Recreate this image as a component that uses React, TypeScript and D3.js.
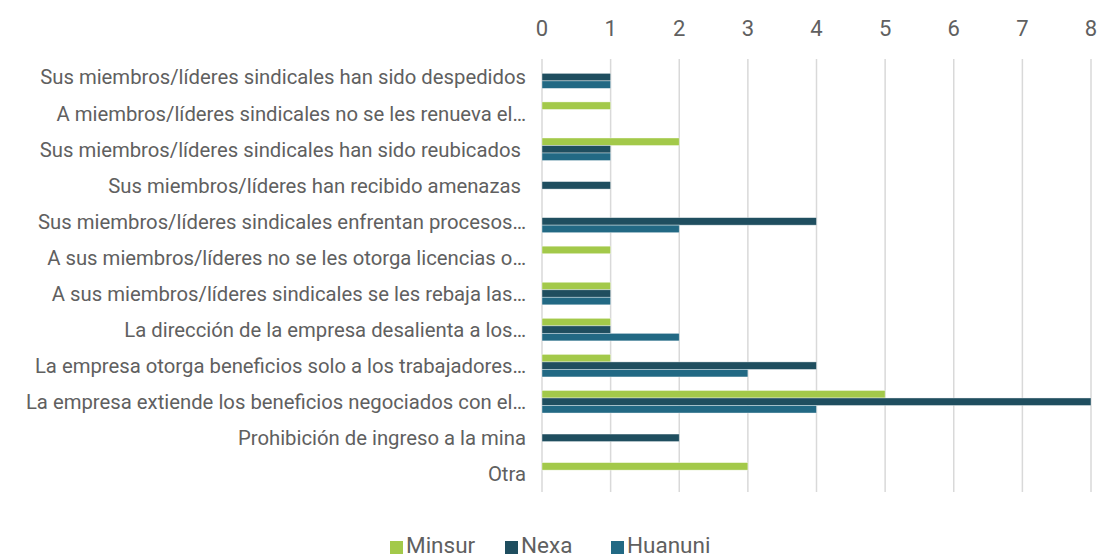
import React from "react";
import * as d3 from "d3";

const categories = [
  "Sus miembros/líderes sindicales han sido despedidos",
  "A miembros/líderes sindicales no se les renueva el…",
  "Sus miembros/líderes sindicales han sido reubicados ",
  "Sus miembros/líderes han recibido amenazas ",
  "Sus miembros/líderes sindicales enfrentan procesos…",
  "A sus miembros/líderes no se les otorga licencias o…",
  "A sus miembros/líderes sindicales se les rebaja las…",
  "La dirección de la empresa desalienta a los…",
  "La empresa otorga beneficios solo a los trabajadores…",
  "La empresa extiende los beneficios negociados con el…",
  "Prohibición de ingreso a la mina",
  "Otra",
];
const seriesNames = ["Minsur", "Nexa", "Huanuni"];
const minsur = [0, 1, 2, 0, 0, 1, 1, 1, 1, 5, 0, 3];
const nexa = [1, 0, 1, 1, 4, 0, 1, 1, 4, 8, 2, 0];
const huanuni = [1, 0, 1, 0, 2, 0, 1, 2, 3, 4, 0, 0];
const seriesValues = [minsur, nexa, huanuni];
const colors = ["#A3C94A", "#1F4E5F", "#226984"];
const ticks = [0, 1, 2, 3, 4, 5, 6, 7, 8];

export default function App() {
  const W = 1100, H = 559;
  const left = 542, right = 1091, top = 59, bottom = 492;
  const x = d3.scaleLinear().domain([0, 8]).range([left, right]);
  const y = d3.scaleBand<number>().domain(d3.range(categories.length)).range([top, bottom]).paddingInner(0.375).paddingOuter(0.19);
  const ys = d3.scaleBand<number>().domain([0, 1, 2]).range([0, y.bandwidth()]);
  const font = "Roboto, 'Noto Sans', sans-serif";
  const legendItems = [
    { x: 390, name: seriesNames[0], c: colors[0] },
    { x: 505, name: seriesNames[1], c: colors[1] },
    { x: 611, name: seriesNames[2], c: colors[2] },
  ];
  return (
    <svg width={W} height={H} style={{ position: "absolute", left: 0, top: 0, background: "#fff" }} fontFamily={font}>
      {ticks.map((t) => (
        <g key={t}>
          <line x1={x(t)} x2={x(t)} y1={top} y2={bottom} stroke="#D9D9D9" strokeWidth={1.5} />
          <text x={x(t)} y={36} textAnchor="middle" fontSize={22} fill="#606060">{t}</text>
        </g>
      ))}
      {categories.map((c, i) => {
        const cy = (y(i) as number) + y.bandwidth() / 2;
        return (
          <g key={i}>
            <text x={526} y={cy} dy="0.36em" textAnchor="end" fontSize={20.3} fill="#606060" style={{ whiteSpace: "pre" }}>{c}</text>
            {seriesValues.map((vals, s) =>
              vals[i] > 0 ? (
                <rect key={s} x={x(0)} y={(y(i) as number) + (ys(s) as number)} width={x(vals[i]) - x(0)} height={ys.bandwidth()} fill={colors[s]} stroke="#fff" strokeOpacity={0.5} strokeWidth={0.75} />
              ) : null
            )}
          </g>
        );
      })}
      {legendItems.map((l) => (
        <g key={l.name}>
          <rect x={l.x} y={541} width={13} height={13} fill={l.c} />
          <text x={l.x + 16} y={553} fontSize={22.5} fill="#606060">{l.name}</text>
        </g>
      ))}
    </svg>
  );
}
